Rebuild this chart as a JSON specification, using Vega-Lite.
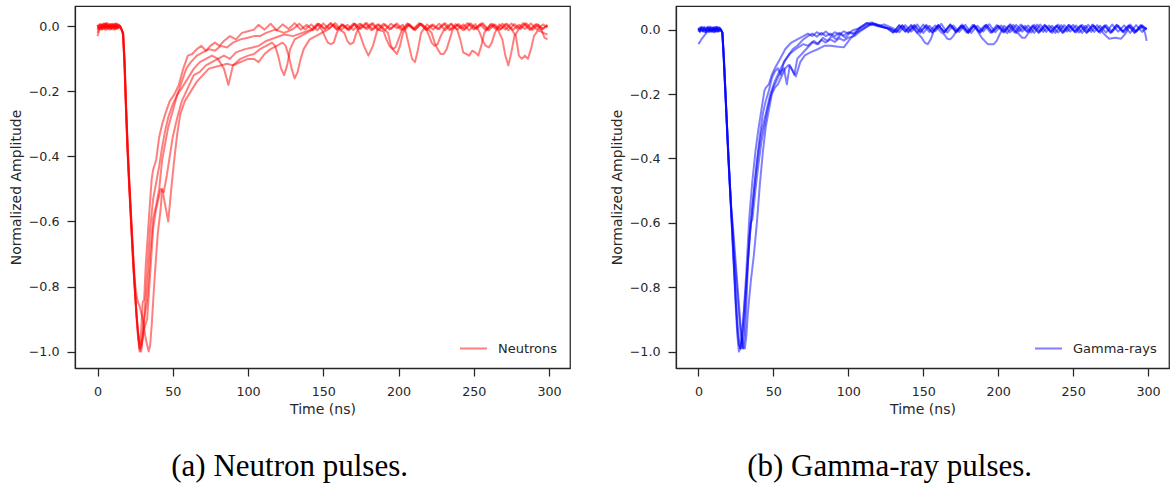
{
"$schema":"https://vega.github.io/schema/vega-lite/v6.json",
"background":"white",
"padding":{"left":8,"top":5,"right":0,"bottom":0},
"config":{
"view":{"stroke":"#262626","strokeWidth":1.25},
"font":"DejaVu Sans",
"axis":{"grid":false,"domainColor":"#262626","domainWidth":1.25,"tickColor":"#262626","tickWidth":1.25,"tickSize":8,"labelFont":"DejaVu Sans","labelFontSize":12.7,"labelColor":"#262626","titleFont":"DejaVu Sans","titleFontSize":14,"titleFontWeight":"normal","titleColor":"#262626"},
"legend":{"orient":"bottom-right","offset":12,"padding":0,"labelFont":"DejaVu Sans","labelFontSize":13,"labelColor":"#262626","symbolType":"stroke","symbolSize":729,"symbolStrokeWidth":2,"symbolOpacity":0.5,"labelOffset":10},
"concat":{"spacing":38}
},
"datasets":{
"neutrons":[
{"p":1,"t":0,"v":0.005},{"p":1,"t":1,"v":-0.008},{"p":1,"t":2,"v":0.004},{"p":1,"t":3,"v":-0.01},{"p":1,"t":4,"v":0.007},{"p":1,"t":5,"v":-0.004},{"p":1,"t":6,"v":0.009},{"p":1,"t":7,"v":-0.007},{"p":1,"t":8,"v":0.003},{"p":1,"t":9,"v":-0.009},{"p":1,"t":10,"v":0.006},{"p":1,"t":11,"v":-0.005},{"p":1,"t":12,"v":0.008},{"p":1,"t":13,"v":-0.006},{"p":1,"t":14,"v":0.004},{"p":1,"t":15,"v":0.0},
{"p":1,"t":16,"v":-0.01},{"p":1,"t":17,"v":-0.03},{"p":1,"t":18,"v":-0.13},{"p":1,"t":19,"v":-0.27},{"p":1,"t":20,"v":-0.39},{"p":1,"t":21,"v":-0.49},{"p":1,"t":22,"v":-0.58},{"p":1,"t":23,"v":-0.67},{"p":1,"t":24,"v":-0.75},{"p":1,"t":25,"v":-0.83},{"p":1,"t":26,"v":-0.9},{"p":1,"t":27,"v":-0.96},{"p":1,"t":28,"v":-1.0},{"p":1,"t":29,"v":-0.94},{"p":1,"t":30,"v":-0.85},{"p":1,"t":31,"v":-0.84},{"p":1,"t":32,"v":-0.74},{"p":1,"t":34,"v":-0.6},{"p":1,"t":36,"v":-0.47},{"p":1,"t":37,"v":-0.44},{"p":1,"t":39,"v":-0.41},{"p":1,"t":41,"v":-0.34},{"p":1,"t":43,"v":-0.3},{"p":1,"t":45,"v":-0.27},{"p":1,"t":48,"v":-0.23},{"p":1,"t":51,"v":-0.21},{"p":1,"t":54,"v":-0.18},{"p":1,"t":57,"v":-0.13},{"p":1,"t":60,"v":-0.09},{"p":1,"t":63,"v":-0.085},{"p":1,"t":66,"v":-0.07},{"p":1,"t":69,"v":-0.06},{"p":1,"t":72,"v":-0.075},{"p":1,"t":75,"v":-0.06},{"p":1,"t":78,"v":-0.05},{"p":1,"t":81,"v":-0.06},{"p":1,"t":84,"v":-0.045},{"p":1,"t":88,"v":-0.03},{"p":1,"t":92,"v":-0.04},{"p":1,"t":96,"v":-0.02},{"p":1,"t":100,"v":-0.015},{"p":1,"t":104,"v":-0.01},{"p":1,"t":107,"v":0.005},
{"p":1,"t":111,"v":-0.01},{"p":1,"t":115,"v":0.008},{"p":1,"t":119,"v":-0.012},{"p":1,"t":123,"v":0.006},{"p":1,"t":127,"v":-0.008},{"p":1,"t":131,"v":0.01},{"p":1,"t":135,"v":-0.01},{"p":1,"t":139,"v":0.005},{"p":1,"t":143,"v":-0.012},{"p":1,"t":147,"v":0.008},{"p":1,"t":151,"v":-0.006},{"p":1,"t":155,"v":0.01},{"p":1,"t":159,"v":-0.011},{"p":1,"t":163,"v":0.006},{"p":1,"t":167,"v":-0.009},{"p":1,"t":171,"v":0.008},{"p":1,"t":174,"v":-0.02},{"p":1,"t":177,"v":-0.06},{"p":1,"t":180,"v":-0.09},{"p":1,"t":183,"v":-0.06},{"p":1,"t":186,"v":-0.01},{"p":1,"t":190,"v":0.008},{"p":1,"t":194,"v":-0.01},{"p":1,"t":198,"v":0.006},{"p":1,"t":202,"v":-0.012},{"p":1,"t":206,"v":0.009},{"p":1,"t":210,"v":-0.007},{"p":1,"t":214,"v":0.01},{"p":1,"t":218,"v":-0.011},{"p":1,"t":222,"v":0.005},{"p":1,"t":226,"v":-0.009},{"p":1,"t":230,"v":0.008},{"p":1,"t":234,"v":-0.012},{"p":1,"t":238,"v":0.007},{"p":1,"t":242,"v":-0.006},{"p":1,"t":246,"v":0.01},{"p":1,"t":250,"v":-0.01},{"p":1,"t":254,"v":0.006},{"p":1,"t":258,"v":-0.012},{"p":1,"t":262,"v":0.008},{"p":1,"t":266,"v":-0.01},{"p":1,"t":269,"v":-0.04},{"p":1,"t":271,"v":-0.09},{"p":1,"t":273,"v":-0.12},{"p":1,"t":275,"v":-0.08},{"p":1,"t":277,"v":-0.03},{"p":1,"t":280,"v":-0.008},{"p":1,"t":284,"v":0.009},{"p":1,"t":288,"v":-0.01},{"p":1,"t":292,"v":0.007},{"p":1,"t":296,"v":-0.008},{"p":1,"t":299,"v":0.005},
{"p":2,"t":0,"v":-0.03},{"p":2,"t":1,"v":-0.015},{"p":2,"t":2,"v":-0.005},{"p":2,"t":3,"v":0.006},{"p":2,"t":4,"v":-0.008},{"p":2,"t":5,"v":0.009},{"p":2,"t":6,"v":-0.006},{"p":2,"t":7,"v":0.004},{"p":2,"t":8,"v":-0.01},{"p":2,"t":9,"v":0.007},{"p":2,"t":10,"v":-0.004},{"p":2,"t":11,"v":0.008},{"p":2,"t":12,"v":-0.009},{"p":2,"t":13,"v":0.005},{"p":2,"t":14,"v":-0.006},{"p":2,"t":15,"v":0.0},
{"p":2,"t":16,"v":-0.01},{"p":2,"t":17,"v":-0.02},{"p":2,"t":18,"v":-0.11},{"p":2,"t":19,"v":-0.25},{"p":2,"t":20,"v":-0.37},{"p":2,"t":21,"v":-0.47},{"p":2,"t":22,"v":-0.56},{"p":2,"t":23,"v":-0.65},{"p":2,"t":24,"v":-0.74},{"p":2,"t":25,"v":-0.82},{"p":2,"t":26,"v":-0.89},{"p":2,"t":27,"v":-0.95},{"p":2,"t":28,"v":-0.99},{"p":2,"t":29,"v":-1.0},{"p":2,"t":30,"v":-0.96},{"p":2,"t":31,"v":-0.9},{"p":2,"t":33,"v":-0.76},{"p":2,"t":35,"v":-0.62},{"p":2,"t":37,"v":-0.53},{"p":2,"t":39,"v":-0.48},{"p":2,"t":41,"v":-0.43},{"p":2,"t":43,"v":-0.37},{"p":2,"t":45,"v":-0.32},{"p":2,"t":47,"v":-0.28},{"p":2,"t":50,"v":-0.24},{"p":2,"t":53,"v":-0.21},{"p":2,"t":56,"v":-0.19},{"p":2,"t":60,"v":-0.16},{"p":2,"t":64,"v":-0.13},{"p":2,"t":68,"v":-0.11},{"p":2,"t":72,"v":-0.1},{"p":2,"t":76,"v":-0.09},{"p":2,"t":80,"v":-0.1},{"p":2,"t":84,"v":-0.13},{"p":2,"t":87,"v":-0.18},{"p":2,"t":90,"v":-0.12},{"p":2,"t":95,"v":-0.1},{"p":2,"t":100,"v":-0.09},{"p":2,"t":104,"v":-0.085},{"p":2,"t":108,"v":-0.07},{"p":2,"t":112,"v":-0.06},{"p":2,"t":116,"v":-0.05},{"p":2,"t":118,"v":-0.06},{"p":2,"t":120,"v":-0.09},{"p":2,"t":122,"v":-0.13},{"p":2,"t":124,"v":-0.15},{"p":2,"t":126,"v":-0.12},{"p":2,"t":128,"v":-0.07},{"p":2,"t":131,"v":-0.04},{"p":2,"t":135,"v":-0.03},{"p":2,"t":139,"v":-0.02},{"p":2,"t":143,"v":-0.01},
{"p":2,"t":147,"v":0.007},{"p":2,"t":151,"v":-0.01},{"p":2,"t":155,"v":0.009},{"p":2,"t":159,"v":-0.008},{"p":2,"t":163,"v":0.005},{"p":2,"t":167,"v":-0.012},{"p":2,"t":171,"v":0.008},{"p":2,"t":175,"v":-0.007},{"p":2,"t":179,"v":0.01},{"p":2,"t":183,"v":-0.01},{"p":2,"t":187,"v":0.006},{"p":2,"t":191,"v":-0.011},{"p":2,"t":195,"v":0.008},{"p":2,"t":199,"v":-0.006},{"p":2,"t":203,"v":0.005},{"p":2,"t":205,"v":-0.02},{"p":2,"t":207,"v":-0.06},{"p":2,"t":209,"v":-0.1},{"p":2,"t":211,"v":-0.11},{"p":2,"t":213,"v":-0.07},{"p":2,"t":215,"v":-0.02},{"p":2,"t":219,"v":0.006},{"p":2,"t":223,"v":-0.01},{"p":2,"t":227,"v":0.008},{"p":2,"t":231,"v":-0.012},{"p":2,"t":235,"v":0.006},{"p":2,"t":239,"v":-0.01},{"p":2,"t":241,"v":-0.04},{"p":2,"t":243,"v":-0.08},{"p":2,"t":245,"v":-0.085},{"p":2,"t":247,"v":-0.09},{"p":2,"t":249,"v":-0.075},{"p":2,"t":251,"v":-0.08},{"p":2,"t":253,"v":-0.09},{"p":2,"t":255,"v":-0.06},{"p":2,"t":257,"v":-0.02},{"p":2,"t":261,"v":0.006},{"p":2,"t":265,"v":-0.01},{"p":2,"t":269,"v":0.008},{"p":2,"t":273,"v":-0.012},{"p":2,"t":277,"v":0.007},{"p":2,"t":281,"v":-0.008},{"p":2,"t":285,"v":0.009},{"p":2,"t":289,"v":-0.011},{"p":2,"t":293,"v":0.005},{"p":2,"t":295,"v":-0.01},{"p":2,"t":297,"v":-0.035},{"p":2,"t":299,"v":-0.04},
{"p":3,"t":0,"v":-0.02},{"p":3,"t":1,"v":-0.005},{"p":3,"t":2,"v":0.007},{"p":3,"t":3,"v":-0.009},{"p":3,"t":4,"v":0.004},{"p":3,"t":5,"v":-0.006},{"p":3,"t":6,"v":0.01},{"p":3,"t":7,"v":-0.008},{"p":3,"t":8,"v":0.005},{"p":3,"t":9,"v":-0.004},{"p":3,"t":10,"v":0.008},{"p":3,"t":11,"v":-0.01},{"p":3,"t":12,"v":0.006},{"p":3,"t":13,"v":-0.007},{"p":3,"t":14,"v":0.003},{"p":3,"t":15,"v":0.0},
{"p":3,"t":16,"v":-0.008},{"p":3,"t":17,"v":-0.025},{"p":3,"t":18,"v":-0.12},{"p":3,"t":19,"v":-0.26},{"p":3,"t":20,"v":-0.38},{"p":3,"t":21,"v":-0.48},{"p":3,"t":22,"v":-0.57},{"p":3,"t":23,"v":-0.66},{"p":3,"t":24,"v":-0.75},{"p":3,"t":25,"v":-0.82},{"p":3,"t":26,"v":-0.89},{"p":3,"t":27,"v":-0.94},{"p":3,"t":28,"v":-0.97},{"p":3,"t":29,"v":-0.98},{"p":3,"t":30,"v":-0.96},{"p":3,"t":31,"v":-0.93},{"p":3,"t":33,"v":-0.9},{"p":3,"t":35,"v":-0.76},{"p":3,"t":37,"v":-0.62},{"p":3,"t":39,"v":-0.56},{"p":3,"t":41,"v":-0.52},{"p":3,"t":42,"v":-0.5},{"p":3,"t":44,"v":-0.51},{"p":3,"t":46,"v":-0.46},{"p":3,"t":48,"v":-0.4},{"p":3,"t":50,"v":-0.34},{"p":3,"t":53,"v":-0.28},{"p":3,"t":56,"v":-0.23},{"p":3,"t":60,"v":-0.19},{"p":3,"t":64,"v":-0.15},{"p":3,"t":68,"v":-0.14},{"p":3,"t":72,"v":-0.12},{"p":3,"t":76,"v":-0.11},{"p":3,"t":80,"v":-0.1},{"p":3,"t":84,"v":-0.09},{"p":3,"t":88,"v":-0.1},{"p":3,"t":92,"v":-0.08},{"p":3,"t":98,"v":-0.07},{"p":3,"t":103,"v":-0.065},{"p":3,"t":107,"v":-0.06},{"p":3,"t":112,"v":-0.045},{"p":3,"t":118,"v":-0.035},{"p":3,"t":124,"v":-0.025},{"p":3,"t":130,"v":-0.03},{"p":3,"t":136,"v":-0.02},{"p":3,"t":142,"v":-0.01},
{"p":3,"t":146,"v":0.008},{"p":3,"t":149,"v":-0.01},{"p":3,"t":151,"v":-0.03},{"p":3,"t":153,"v":-0.05},{"p":3,"t":155,"v":-0.055},{"p":3,"t":157,"v":-0.05},{"p":3,"t":159,"v":-0.02},{"p":3,"t":162,"v":0.006},{"p":3,"t":166,"v":-0.01},{"p":3,"t":170,"v":0.009},{"p":3,"t":174,"v":-0.008},{"p":3,"t":178,"v":0.01},{"p":3,"t":182,"v":-0.012},{"p":3,"t":186,"v":0.006},{"p":3,"t":190,"v":-0.008},{"p":3,"t":193,"v":-0.02},{"p":3,"t":195,"v":-0.06},{"p":3,"t":197,"v":-0.075},{"p":3,"t":199,"v":-0.085},{"p":3,"t":201,"v":-0.06},{"p":3,"t":203,"v":-0.02},{"p":3,"t":207,"v":0.007},{"p":3,"t":211,"v":-0.01},{"p":3,"t":215,"v":0.008},{"p":3,"t":219,"v":-0.011},{"p":3,"t":223,"v":0.006},{"p":3,"t":227,"v":-0.009},{"p":3,"t":231,"v":0.01},{"p":3,"t":235,"v":-0.01},{"p":3,"t":239,"v":0.005},{"p":3,"t":243,"v":-0.012},{"p":3,"t":247,"v":0.008},{"p":3,"t":251,"v":-0.007},{"p":3,"t":255,"v":0.009},{"p":3,"t":259,"v":-0.01},{"p":3,"t":263,"v":0.006},{"p":3,"t":267,"v":-0.011},{"p":3,"t":271,"v":0.007},{"p":3,"t":275,"v":-0.008},{"p":3,"t":278,"v":-0.03},{"p":3,"t":280,"v":-0.09},{"p":3,"t":282,"v":-0.1},{"p":3,"t":284,"v":-0.09},{"p":3,"t":286,"v":-0.1},{"p":3,"t":288,"v":-0.07},{"p":3,"t":290,"v":-0.03},{"p":3,"t":293,"v":-0.01},{"p":3,"t":296,"v":-0.02},{"p":3,"t":299,"v":-0.025},
{"p":4,"t":0,"v":0.004},{"p":4,"t":1,"v":-0.009},{"p":4,"t":2,"v":0.006},{"p":4,"t":3,"v":-0.005},{"p":4,"t":4,"v":0.009},{"p":4,"t":5,"v":-0.01},{"p":4,"t":6,"v":0.005},{"p":4,"t":7,"v":-0.003},{"p":4,"t":8,"v":0.007},{"p":4,"t":9,"v":-0.008},{"p":4,"t":10,"v":0.004},{"p":4,"t":11,"v":-0.006},{"p":4,"t":12,"v":0.009},{"p":4,"t":13,"v":-0.005},{"p":4,"t":14,"v":0.006},{"p":4,"t":15,"v":0.0},
{"p":4,"t":16,"v":-0.01},{"p":4,"t":17,"v":-0.02},{"p":4,"t":18,"v":-0.1},{"p":4,"t":19,"v":-0.24},{"p":4,"t":20,"v":-0.36},{"p":4,"t":21,"v":-0.46},{"p":4,"t":22,"v":-0.55},{"p":4,"t":23,"v":-0.64},{"p":4,"t":24,"v":-0.72},{"p":4,"t":25,"v":-0.79},{"p":4,"t":26,"v":-0.83},{"p":4,"t":27,"v":-0.85},{"p":4,"t":28,"v":-0.86},{"p":4,"t":30,"v":-0.9},{"p":4,"t":32,"v":-0.96},{"p":4,"t":34,"v":-1.0},{"p":4,"t":35,"v":-0.98},{"p":4,"t":36,"v":-0.92},{"p":4,"t":38,"v":-0.77},{"p":4,"t":40,"v":-0.64},{"p":4,"t":42,"v":-0.56},{"p":4,"t":43,"v":-0.5},{"p":4,"t":45,"v":-0.55},{"p":4,"t":47,"v":-0.6},{"p":4,"t":49,"v":-0.5},{"p":4,"t":51,"v":-0.41},{"p":4,"t":53,"v":-0.33},{"p":4,"t":55,"v":-0.27},{"p":4,"t":58,"v":-0.23},{"p":4,"t":62,"v":-0.2},{"p":4,"t":66,"v":-0.17},{"p":4,"t":70,"v":-0.15},{"p":4,"t":74,"v":-0.13},{"p":4,"t":78,"v":-0.125},{"p":4,"t":82,"v":-0.12},{"p":4,"t":86,"v":-0.115},{"p":4,"t":90,"v":-0.12},{"p":4,"t":95,"v":-0.11},{"p":4,"t":100,"v":-0.1},{"p":4,"t":104,"v":-0.1},{"p":4,"t":107,"v":-0.11},{"p":4,"t":111,"v":-0.085},{"p":4,"t":115,"v":-0.07},{"p":4,"t":119,"v":-0.06},{"p":4,"t":123,"v":-0.05},{"p":4,"t":125,"v":-0.06},{"p":4,"t":127,"v":-0.09},{"p":4,"t":129,"v":-0.13},{"p":4,"t":131,"v":-0.16},{"p":4,"t":133,"v":-0.14},{"p":4,"t":135,"v":-0.1},{"p":4,"t":137,"v":-0.07},{"p":4,"t":141,"v":-0.04},{"p":4,"t":145,"v":-0.03},{"p":4,"t":149,"v":-0.02},{"p":4,"t":153,"v":-0.01},
{"p":4,"t":157,"v":0.006},{"p":4,"t":161,"v":-0.01},{"p":4,"t":164,"v":-0.02},{"p":4,"t":166,"v":-0.045},{"p":4,"t":168,"v":-0.055},{"p":4,"t":170,"v":-0.05},{"p":4,"t":172,"v":-0.02},{"p":4,"t":175,"v":0.007},{"p":4,"t":179,"v":-0.009},{"p":4,"t":183,"v":0.01},{"p":4,"t":187,"v":-0.011},{"p":4,"t":191,"v":0.006},{"p":4,"t":195,"v":-0.008},{"p":4,"t":199,"v":0.009},{"p":4,"t":203,"v":-0.01},{"p":4,"t":207,"v":0.005},{"p":4,"t":211,"v":-0.012},{"p":4,"t":215,"v":0.008},{"p":4,"t":219,"v":-0.006},{"p":4,"t":222,"v":-0.02},{"p":4,"t":224,"v":-0.05},{"p":4,"t":226,"v":-0.07},{"p":4,"t":228,"v":-0.085},{"p":4,"t":230,"v":-0.085},{"p":4,"t":232,"v":-0.07},{"p":4,"t":234,"v":-0.04},{"p":4,"t":236,"v":-0.01},{"p":4,"t":240,"v":0.007},{"p":4,"t":244,"v":-0.01},{"p":4,"t":248,"v":0.009},{"p":4,"t":252,"v":-0.008},{"p":4,"t":256,"v":0.01},{"p":4,"t":260,"v":-0.012},{"p":4,"t":264,"v":0.006},{"p":4,"t":268,"v":-0.009},{"p":4,"t":272,"v":0.008},{"p":4,"t":276,"v":-0.011},{"p":4,"t":280,"v":0.005},{"p":4,"t":284,"v":-0.008},{"p":4,"t":288,"v":0.009},{"p":4,"t":292,"v":-0.01},{"p":4,"t":296,"v":0.006},{"p":4,"t":299,"v":-0.004},
{"p":5,"t":0,"v":-0.01},{"p":5,"t":1,"v":0.006},{"p":5,"t":2,"v":-0.008},{"p":5,"t":3,"v":0.004},{"p":5,"t":4,"v":-0.006},{"p":5,"t":5,"v":0.008},{"p":5,"t":6,"v":-0.01},{"p":5,"t":7,"v":0.009},{"p":5,"t":8,"v":-0.005},{"p":5,"t":9,"v":0.006},{"p":5,"t":10,"v":-0.009},{"p":5,"t":11,"v":0.004},{"p":5,"t":12,"v":-0.007},{"p":5,"t":13,"v":0.008},{"p":5,"t":14,"v":-0.004},{"p":5,"t":15,"v":0.0},
{"p":5,"t":16,"v":-0.01},{"p":5,"t":17,"v":-0.02},{"p":5,"t":18,"v":-0.12},{"p":5,"t":19,"v":-0.26},{"p":5,"t":20,"v":-0.38},{"p":5,"t":21,"v":-0.48},{"p":5,"t":22,"v":-0.57},{"p":5,"t":23,"v":-0.66},{"p":5,"t":24,"v":-0.75},{"p":5,"t":25,"v":-0.82},{"p":5,"t":26,"v":-0.89},{"p":5,"t":27,"v":-0.95},{"p":5,"t":28,"v":-0.99},{"p":5,"t":29,"v":-0.99},{"p":5,"t":30,"v":-0.95},{"p":5,"t":31,"v":-0.9},{"p":5,"t":33,"v":-0.84},{"p":5,"t":35,"v":-0.7},{"p":5,"t":37,"v":-0.59},{"p":5,"t":39,"v":-0.55},{"p":5,"t":41,"v":-0.5},{"p":5,"t":43,"v":-0.41},{"p":5,"t":45,"v":-0.36},{"p":5,"t":47,"v":-0.31},{"p":5,"t":50,"v":-0.26},{"p":5,"t":53,"v":-0.21},{"p":5,"t":56,"v":-0.17},{"p":5,"t":59,"v":-0.13},{"p":5,"t":62,"v":-0.11},{"p":5,"t":66,"v":-0.09},{"p":5,"t":70,"v":-0.08},{"p":5,"t":74,"v":-0.07},{"p":5,"t":78,"v":-0.075},{"p":5,"t":82,"v":-0.06},{"p":5,"t":86,"v":-0.065},{"p":5,"t":90,"v":-0.05},{"p":5,"t":95,"v":-0.04},{"p":5,"t":100,"v":-0.035},{"p":5,"t":104,"v":-0.03},{"p":5,"t":108,"v":-0.03},{"p":5,"t":112,"v":-0.02},{"p":5,"t":118,"v":-0.01},{"p":5,"t":124,"v":-0.02},{"p":5,"t":130,"v":-0.008},
{"p":5,"t":134,"v":0.008},{"p":5,"t":138,"v":-0.01},{"p":5,"t":142,"v":0.006},{"p":5,"t":146,"v":-0.012},{"p":5,"t":150,"v":0.009},{"p":5,"t":154,"v":-0.007},{"p":5,"t":158,"v":0.01},{"p":5,"t":162,"v":-0.01},{"p":5,"t":166,"v":0.005},{"p":5,"t":170,"v":-0.011},{"p":5,"t":174,"v":0.008},{"p":5,"t":178,"v":-0.006},{"p":5,"t":182,"v":0.009},{"p":5,"t":186,"v":-0.01},{"p":5,"t":190,"v":-0.015},{"p":5,"t":192,"v":-0.04},{"p":5,"t":194,"v":-0.06},{"p":5,"t":196,"v":-0.07},{"p":5,"t":198,"v":-0.065},{"p":5,"t":200,"v":-0.04},{"p":5,"t":202,"v":-0.015},{"p":5,"t":206,"v":0.007},{"p":5,"t":210,"v":-0.01},{"p":5,"t":214,"v":0.008},{"p":5,"t":218,"v":-0.005},{"p":5,"t":220,"v":-0.025},{"p":5,"t":222,"v":-0.05},{"p":5,"t":224,"v":-0.06},{"p":5,"t":226,"v":-0.055},{"p":5,"t":228,"v":-0.03},{"p":5,"t":231,"v":-0.005},{"p":5,"t":235,"v":0.009},{"p":5,"t":239,"v":-0.01},{"p":5,"t":243,"v":0.006},{"p":5,"t":247,"v":-0.012},{"p":5,"t":251,"v":0.007},{"p":5,"t":254,"v":-0.02},{"p":5,"t":256,"v":-0.045},{"p":5,"t":258,"v":-0.06},{"p":5,"t":260,"v":-0.065},{"p":5,"t":262,"v":-0.05},{"p":5,"t":264,"v":-0.02},{"p":5,"t":267,"v":0.006},{"p":5,"t":271,"v":-0.01},{"p":5,"t":275,"v":0.009},{"p":5,"t":279,"v":-0.007},{"p":5,"t":283,"v":0.01},{"p":5,"t":287,"v":-0.011},{"p":5,"t":291,"v":0.006},{"p":5,"t":295,"v":-0.009},{"p":5,"t":299,"v":0.003}
],
"gammas":[
{"p":1,"t":0,"v":0.004},{"p":1,"t":1,"v":-0.006},{"p":1,"t":2,"v":0.008},{"p":1,"t":3,"v":-0.003},{"p":1,"t":4,"v":0.006},{"p":1,"t":5,"v":-0.007},{"p":1,"t":6,"v":0.005},{"p":1,"t":7,"v":-0.004},{"p":1,"t":8,"v":0.009},{"p":1,"t":9,"v":-0.005},{"p":1,"t":10,"v":0.006},{"p":1,"t":11,"v":-0.008},{"p":1,"t":12,"v":0.005},{"p":1,"t":13,"v":-0.003},{"p":1,"t":14,"v":0.007},{"p":1,"t":15,"v":0.0},
{"p":1,"t":16,"v":-0.01},{"p":1,"t":17,"v":-0.1},{"p":1,"t":18,"v":-0.2},{"p":1,"t":19,"v":-0.3},{"p":1,"t":20,"v":-0.4},{"p":1,"t":21,"v":-0.49},{"p":1,"t":22,"v":-0.58},{"p":1,"t":23,"v":-0.68},{"p":1,"t":24,"v":-0.77},{"p":1,"t":25,"v":-0.87},{"p":1,"t":26,"v":-0.95},{"p":1,"t":27,"v":-1.0},{"p":1,"t":28,"v":-0.99},{"p":1,"t":29,"v":-0.95},{"p":1,"t":31,"v":-0.84},{"p":1,"t":33,"v":-0.72},{"p":1,"t":35,"v":-0.6},{"p":1,"t":36,"v":-0.55},{"p":1,"t":38,"v":-0.46},{"p":1,"t":40,"v":-0.38},{"p":1,"t":42,"v":-0.32},{"p":1,"t":44,"v":-0.28},{"p":1,"t":46,"v":-0.24},{"p":1,"t":48,"v":-0.2},{"p":1,"t":51,"v":-0.16},{"p":1,"t":55,"v":-0.12},{"p":1,"t":58,"v":-0.095},{"p":1,"t":61,"v":-0.075},{"p":1,"t":65,"v":-0.06},{"p":1,"t":70,"v":-0.045},{"p":1,"t":73,"v":-0.05},{"p":1,"t":76,"v":-0.038},{"p":1,"t":79,"v":-0.045},{"p":1,"t":82,"v":-0.032},{"p":1,"t":85,"v":-0.04},{"p":1,"t":88,"v":-0.03},{"p":1,"t":91,"v":-0.038},{"p":1,"t":94,"v":-0.026},{"p":1,"t":97,"v":-0.034},{"p":1,"t":100,"v":-0.025},{"p":1,"t":104,"v":-0.02},{"p":1,"t":108,"v":-0.005},{"p":1,"t":112,"v":0.008},{"p":1,"t":116,"v":0.018},{"p":1,"t":120,"v":0.012},{"p":1,"t":124,"v":0.016},{"p":1,"t":130,"v":0.004},
{"p":1,"t":134,"v":-0.008},{"p":1,"t":138,"v":0.014},{"p":1,"t":142,"v":-0.006},{"p":1,"t":146,"v":0.016},{"p":1,"t":150,"v":-0.01},{"p":1,"t":154,"v":0.012},{"p":1,"t":158,"v":-0.005},{"p":1,"t":162,"v":0.018},{"p":1,"t":166,"v":-0.009},{"p":1,"t":170,"v":0.013},{"p":1,"t":174,"v":-0.007},{"p":1,"t":178,"v":0.015},{"p":1,"t":182,"v":-0.01},{"p":1,"t":186,"v":0.012},{"p":1,"t":190,"v":-0.006},{"p":1,"t":194,"v":0.017},{"p":1,"t":198,"v":-0.008},{"p":1,"t":202,"v":0.013},{"p":1,"t":206,"v":-0.011},{"p":1,"t":210,"v":0.015},{"p":1,"t":214,"v":-0.006},{"p":1,"t":218,"v":0.012},{"p":1,"t":222,"v":-0.009},{"p":1,"t":226,"v":0.016},{"p":1,"t":230,"v":-0.007},{"p":1,"t":234,"v":0.013},{"p":1,"t":238,"v":-0.01},{"p":1,"t":242,"v":0.014},{"p":1,"t":246,"v":-0.006},{"p":1,"t":250,"v":0.015},{"p":1,"t":254,"v":-0.009},{"p":1,"t":258,"v":0.012},{"p":1,"t":262,"v":-0.007},{"p":1,"t":266,"v":0.014},{"p":1,"t":270,"v":-0.01},{"p":1,"t":272,"v":-0.02},{"p":1,"t":274,"v":-0.028},{"p":1,"t":278,"v":-0.025},{"p":1,"t":282,"v":-0.028},{"p":1,"t":285,"v":-0.012},{"p":1,"t":288,"v":0.012},{"p":1,"t":292,"v":-0.006},{"p":1,"t":296,"v":0.014},{"p":1,"t":299,"v":0.002},
{"p":2,"t":0,"v":-0.006},{"p":2,"t":1,"v":0.007},{"p":2,"t":2,"v":-0.004},{"p":2,"t":3,"v":0.008},{"p":2,"t":4,"v":-0.007},{"p":2,"t":5,"v":0.005},{"p":2,"t":6,"v":-0.003},{"p":2,"t":7,"v":0.009},{"p":2,"t":8,"v":-0.006},{"p":2,"t":9,"v":0.004},{"p":2,"t":10,"v":-0.008},{"p":2,"t":11,"v":0.006},{"p":2,"t":12,"v":-0.004},{"p":2,"t":13,"v":0.008},{"p":2,"t":14,"v":-0.005},{"p":2,"t":15,"v":0.0},
{"p":2,"t":16,"v":-0.01},{"p":2,"t":17,"v":-0.09},{"p":2,"t":18,"v":-0.19},{"p":2,"t":19,"v":-0.29},{"p":2,"t":20,"v":-0.39},{"p":2,"t":21,"v":-0.48},{"p":2,"t":22,"v":-0.57},{"p":2,"t":23,"v":-0.63},{"p":2,"t":24,"v":-0.7},{"p":2,"t":25,"v":-0.76},{"p":2,"t":26,"v":-0.82},{"p":2,"t":27,"v":-0.88},{"p":2,"t":28,"v":-0.93},{"p":2,"t":29,"v":-0.97},{"p":2,"t":30,"v":-0.99},{"p":2,"t":31,"v":-0.95},{"p":2,"t":32,"v":-0.85},{"p":2,"t":33,"v":-0.73},{"p":2,"t":34,"v":-0.64},{"p":2,"t":35,"v":-0.6},{"p":2,"t":36,"v":-0.59},{"p":2,"t":38,"v":-0.5},{"p":2,"t":40,"v":-0.42},{"p":2,"t":42,"v":-0.35},{"p":2,"t":44,"v":-0.3},{"p":2,"t":46,"v":-0.25},{"p":2,"t":48,"v":-0.21},{"p":2,"t":50,"v":-0.18},{"p":2,"t":52,"v":-0.16},{"p":2,"t":55,"v":-0.13},{"p":2,"t":57,"v":-0.12},{"p":2,"t":59,"v":-0.17},{"p":2,"t":61,"v":-0.11},{"p":2,"t":64,"v":-0.14},{"p":2,"t":66,"v":-0.09},{"p":2,"t":70,"v":-0.07},{"p":2,"t":74,"v":-0.05},{"p":2,"t":77,"v":-0.035},{"p":2,"t":80,"v":-0.045},{"p":2,"t":83,"v":-0.025},{"p":2,"t":86,"v":-0.035},{"p":2,"t":89,"v":-0.02},{"p":2,"t":92,"v":-0.03},{"p":2,"t":95,"v":-0.015},{"p":2,"t":98,"v":-0.025},{"p":2,"t":101,"v":-0.01},{"p":2,"t":104,"v":-0.015},{"p":2,"t":108,"v":0.005},{"p":2,"t":112,"v":0.02},{"p":2,"t":116,"v":0.022},{"p":2,"t":120,"v":0.015},{"p":2,"t":126,"v":0.005},
{"p":2,"t":130,"v":-0.009},{"p":2,"t":134,"v":0.013},{"p":2,"t":138,"v":-0.006},{"p":2,"t":142,"v":0.015},{"p":2,"t":146,"v":-0.01},{"p":2,"t":149,"v":-0.025},{"p":2,"t":151,"v":-0.04},{"p":2,"t":153,"v":-0.045},{"p":2,"t":155,"v":-0.03},{"p":2,"t":157,"v":-0.005},{"p":2,"t":160,"v":0.014},{"p":2,"t":164,"v":-0.008},{"p":2,"t":168,"v":0.012},{"p":2,"t":172,"v":-0.006},{"p":2,"t":176,"v":0.016},{"p":2,"t":180,"v":-0.01},{"p":2,"t":184,"v":0.013},{"p":2,"t":188,"v":-0.007},{"p":2,"t":192,"v":0.015},{"p":2,"t":196,"v":-0.009},{"p":2,"t":200,"v":0.012},{"p":2,"t":204,"v":-0.006},{"p":2,"t":208,"v":0.017},{"p":2,"t":212,"v":-0.01},{"p":2,"t":216,"v":0.013},{"p":2,"t":220,"v":-0.008},{"p":2,"t":224,"v":0.015},{"p":2,"t":228,"v":-0.006},{"p":2,"t":232,"v":0.012},{"p":2,"t":236,"v":-0.01},{"p":2,"t":240,"v":0.016},{"p":2,"t":244,"v":-0.007},{"p":2,"t":248,"v":0.013},{"p":2,"t":252,"v":-0.009},{"p":2,"t":256,"v":0.015},{"p":2,"t":260,"v":-0.006},{"p":2,"t":264,"v":0.012},{"p":2,"t":268,"v":-0.01},{"p":2,"t":272,"v":0.014},{"p":2,"t":276,"v":-0.007},{"p":2,"t":280,"v":0.013},{"p":2,"t":284,"v":-0.009},{"p":2,"t":288,"v":0.016},{"p":2,"t":292,"v":-0.006},{"p":2,"t":296,"v":0.01},{"p":2,"t":298,"v":-0.01},{"p":2,"t":299,"v":-0.035},
{"p":3,"t":0,"v":-0.045},{"p":3,"t":1,"v":-0.038},{"p":3,"t":2,"v":-0.03},{"p":3,"t":3,"v":-0.024},{"p":3,"t":4,"v":-0.018},{"p":3,"t":5,"v":-0.012},{"p":3,"t":6,"v":-0.006},{"p":3,"t":7,"v":0.004},{"p":3,"t":8,"v":-0.005},{"p":3,"t":9,"v":0.007},{"p":3,"t":10,"v":-0.004},{"p":3,"t":11,"v":0.008},{"p":3,"t":12,"v":-0.006},{"p":3,"t":13,"v":0.005},{"p":3,"t":14,"v":-0.003},{"p":3,"t":15,"v":0.0},
{"p":3,"t":16,"v":-0.01},{"p":3,"t":17,"v":-0.09},{"p":3,"t":18,"v":-0.19},{"p":3,"t":19,"v":-0.29},{"p":3,"t":20,"v":-0.39},{"p":3,"t":21,"v":-0.48},{"p":3,"t":22,"v":-0.56},{"p":3,"t":23,"v":-0.61},{"p":3,"t":24,"v":-0.67},{"p":3,"t":25,"v":-0.73},{"p":3,"t":26,"v":-0.79},{"p":3,"t":27,"v":-0.85},{"p":3,"t":28,"v":-0.91},{"p":3,"t":29,"v":-0.96},{"p":3,"t":30,"v":-0.99},{"p":3,"t":31,"v":-0.99},{"p":3,"t":32,"v":-0.95},{"p":3,"t":33,"v":-0.88},{"p":3,"t":35,"v":-0.78},{"p":3,"t":37,"v":-0.7},{"p":3,"t":39,"v":-0.6},{"p":3,"t":41,"v":-0.48},{"p":3,"t":43,"v":-0.38},{"p":3,"t":45,"v":-0.3},{"p":3,"t":47,"v":-0.25},{"p":3,"t":49,"v":-0.2},{"p":3,"t":51,"v":-0.18},{"p":3,"t":53,"v":-0.17},{"p":3,"t":56,"v":-0.14},{"p":3,"t":58,"v":-0.12},{"p":3,"t":60,"v":-0.11},{"p":3,"t":62,"v":-0.12},{"p":3,"t":65,"v":-0.145},{"p":3,"t":68,"v":-0.1},{"p":3,"t":71,"v":-0.08},{"p":3,"t":75,"v":-0.07},{"p":3,"t":80,"v":-0.06},{"p":3,"t":84,"v":-0.05},{"p":3,"t":88,"v":-0.05},{"p":3,"t":92,"v":-0.052},{"p":3,"t":97,"v":-0.055},{"p":3,"t":101,"v":-0.03},{"p":3,"t":105,"v":-0.01},{"p":3,"t":110,"v":0.003},{"p":3,"t":114,"v":0.015},{"p":3,"t":118,"v":0.018},{"p":3,"t":122,"v":0.01},{"p":3,"t":128,"v":0.003},
{"p":3,"t":132,"v":-0.008},{"p":3,"t":136,"v":0.014},{"p":3,"t":140,"v":-0.006},{"p":3,"t":144,"v":0.012},{"p":3,"t":148,"v":-0.01},{"p":3,"t":152,"v":0.015},{"p":3,"t":156,"v":-0.007},{"p":3,"t":160,"v":0.013},{"p":3,"t":164,"v":-0.009},{"p":3,"t":168,"v":0.016},{"p":3,"t":172,"v":-0.006},{"p":3,"t":176,"v":0.012},{"p":3,"t":180,"v":-0.01},{"p":3,"t":184,"v":0.014},{"p":3,"t":187,"v":-0.01},{"p":3,"t":189,"v":-0.025},{"p":3,"t":191,"v":-0.035},{"p":3,"t":193,"v":-0.045},{"p":3,"t":195,"v":-0.045},{"p":3,"t":197,"v":-0.045},{"p":3,"t":199,"v":-0.035},{"p":3,"t":201,"v":-0.015},{"p":3,"t":204,"v":0.012},{"p":3,"t":208,"v":-0.008},{"p":3,"t":212,"v":0.015},{"p":3,"t":216,"v":-0.006},{"p":3,"t":220,"v":0.013},{"p":3,"t":224,"v":-0.01},{"p":3,"t":228,"v":0.016},{"p":3,"t":232,"v":-0.007},{"p":3,"t":236,"v":0.012},{"p":3,"t":240,"v":-0.009},{"p":3,"t":244,"v":0.014},{"p":3,"t":248,"v":-0.006},{"p":3,"t":252,"v":0.013},{"p":3,"t":256,"v":-0.01},{"p":3,"t":260,"v":0.015},{"p":3,"t":264,"v":-0.007},{"p":3,"t":268,"v":0.012},{"p":3,"t":272,"v":-0.009},{"p":3,"t":276,"v":0.016},{"p":3,"t":280,"v":-0.006},{"p":3,"t":284,"v":0.013},{"p":3,"t":288,"v":-0.01},{"p":3,"t":292,"v":0.014},{"p":3,"t":296,"v":-0.007},{"p":3,"t":299,"v":0.006},
{"p":4,"t":0,"v":0.003},{"p":4,"t":1,"v":-0.007},{"p":4,"t":2,"v":0.005},{"p":4,"t":3,"v":-0.004},{"p":4,"t":4,"v":0.008},{"p":4,"t":5,"v":-0.006},{"p":4,"t":6,"v":0.006},{"p":4,"t":7,"v":-0.008},{"p":4,"t":8,"v":0.004},{"p":4,"t":9,"v":-0.003},{"p":4,"t":10,"v":0.007},{"p":4,"t":11,"v":-0.005},{"p":4,"t":12,"v":0.009},{"p":4,"t":13,"v":-0.006},{"p":4,"t":14,"v":0.004},{"p":4,"t":15,"v":0.0},
{"p":4,"t":16,"v":-0.01},{"p":4,"t":17,"v":-0.1},{"p":4,"t":18,"v":-0.2},{"p":4,"t":19,"v":-0.3},{"p":4,"t":20,"v":-0.4},{"p":4,"t":21,"v":-0.49},{"p":4,"t":22,"v":-0.58},{"p":4,"t":23,"v":-0.67},{"p":4,"t":24,"v":-0.76},{"p":4,"t":25,"v":-0.85},{"p":4,"t":26,"v":-0.93},{"p":4,"t":27,"v":-0.98},{"p":4,"t":28,"v":-0.99},{"p":4,"t":29,"v":-0.96},{"p":4,"t":30,"v":-0.9},{"p":4,"t":32,"v":-0.75},{"p":4,"t":34,"v":-0.58},{"p":4,"t":36,"v":-0.47},{"p":4,"t":38,"v":-0.38},{"p":4,"t":40,"v":-0.31},{"p":4,"t":42,"v":-0.25},{"p":4,"t":44,"v":-0.19},{"p":4,"t":45,"v":-0.18},{"p":4,"t":47,"v":-0.17},{"p":4,"t":49,"v":-0.14},{"p":4,"t":51,"v":-0.12},{"p":4,"t":54,"v":-0.095},{"p":4,"t":58,"v":-0.06},{"p":4,"t":62,"v":-0.04},{"p":4,"t":66,"v":-0.03},{"p":4,"t":70,"v":-0.02},{"p":4,"t":73,"v":-0.012},{"p":4,"t":76,"v":-0.02},{"p":4,"t":79,"v":-0.008},{"p":4,"t":82,"v":-0.016},{"p":4,"t":85,"v":-0.006},{"p":4,"t":88,"v":-0.018},{"p":4,"t":91,"v":-0.008},{"p":4,"t":94,"v":-0.015},{"p":4,"t":97,"v":-0.005},{"p":4,"t":100,"v":-0.012},{"p":4,"t":103,"v":-0.002},{"p":4,"t":108,"v":0.005},{"p":4,"t":112,"v":0.015},{"p":4,"t":116,"v":0.02},{"p":4,"t":120,"v":0.012},{"p":4,"t":126,"v":0.004},
{"p":4,"t":130,"v":-0.009},{"p":4,"t":134,"v":0.014},{"p":4,"t":138,"v":-0.006},{"p":4,"t":142,"v":0.012},{"p":4,"t":146,"v":-0.01},{"p":4,"t":150,"v":0.016},{"p":4,"t":154,"v":-0.007},{"p":4,"t":158,"v":0.013},{"p":4,"t":162,"v":-0.008},{"p":4,"t":164,"v":-0.015},{"p":4,"t":166,"v":-0.028},{"p":4,"t":168,"v":-0.03},{"p":4,"t":170,"v":-0.02},{"p":4,"t":172,"v":-0.005},{"p":4,"t":175,"v":0.012},{"p":4,"t":179,"v":-0.009},{"p":4,"t":183,"v":0.015},{"p":4,"t":187,"v":-0.006},{"p":4,"t":191,"v":0.013},{"p":4,"t":195,"v":-0.01},{"p":4,"t":199,"v":0.014},{"p":4,"t":203,"v":-0.007},{"p":4,"t":207,"v":0.012},{"p":4,"t":211,"v":-0.009},{"p":4,"t":215,"v":0.016},{"p":4,"t":219,"v":-0.006},{"p":4,"t":223,"v":0.013},{"p":4,"t":227,"v":-0.01},{"p":4,"t":231,"v":0.015},{"p":4,"t":235,"v":-0.007},{"p":4,"t":239,"v":0.012},{"p":4,"t":243,"v":-0.009},{"p":4,"t":247,"v":0.014},{"p":4,"t":251,"v":-0.006},{"p":4,"t":255,"v":0.013},{"p":4,"t":259,"v":-0.01},{"p":4,"t":263,"v":0.016},{"p":4,"t":267,"v":-0.007},{"p":4,"t":271,"v":0.012},{"p":4,"t":275,"v":-0.009},{"p":4,"t":279,"v":0.014},{"p":4,"t":283,"v":-0.006},{"p":4,"t":287,"v":0.013},{"p":4,"t":291,"v":-0.01},{"p":4,"t":295,"v":0.012},{"p":4,"t":299,"v":0.0},
{"p":5,"t":0,"v":0.006},{"p":5,"t":1,"v":-0.004},{"p":5,"t":2,"v":0.007},{"p":5,"t":3,"v":-0.006},{"p":5,"t":4,"v":0.004},{"p":5,"t":5,"v":-0.008},{"p":5,"t":6,"v":0.009},{"p":5,"t":7,"v":-0.005},{"p":5,"t":8,"v":0.006},{"p":5,"t":9,"v":-0.007},{"p":5,"t":10,"v":0.005},{"p":5,"t":11,"v":-0.004},{"p":5,"t":12,"v":0.008},{"p":5,"t":13,"v":-0.006},{"p":5,"t":14,"v":0.005},{"p":5,"t":15,"v":0.0},
{"p":5,"t":16,"v":-0.01},{"p":5,"t":17,"v":-0.09},{"p":5,"t":18,"v":-0.19},{"p":5,"t":19,"v":-0.29},{"p":5,"t":20,"v":-0.39},{"p":5,"t":21,"v":-0.48},{"p":5,"t":22,"v":-0.57},{"p":5,"t":23,"v":-0.66},{"p":5,"t":24,"v":-0.75},{"p":5,"t":25,"v":-0.84},{"p":5,"t":26,"v":-0.91},{"p":5,"t":27,"v":-0.96},{"p":5,"t":28,"v":-0.99},{"p":5,"t":29,"v":-0.99},{"p":5,"t":30,"v":-0.95},{"p":5,"t":31,"v":-0.88},{"p":5,"t":33,"v":-0.72},{"p":5,"t":35,"v":-0.6},{"p":5,"t":37,"v":-0.5},{"p":5,"t":39,"v":-0.41},{"p":5,"t":41,"v":-0.33},{"p":5,"t":43,"v":-0.26},{"p":5,"t":45,"v":-0.22},{"p":5,"t":47,"v":-0.19},{"p":5,"t":49,"v":-0.15},{"p":5,"t":51,"v":-0.13},{"p":5,"t":53,"v":-0.12},{"p":5,"t":55,"v":-0.14},{"p":5,"t":57,"v":-0.1},{"p":5,"t":60,"v":-0.08},{"p":5,"t":63,"v":-0.06},{"p":5,"t":66,"v":-0.05},{"p":5,"t":70,"v":-0.03},{"p":5,"t":73,"v":-0.02},{"p":5,"t":76,"v":-0.012},{"p":5,"t":79,"v":-0.022},{"p":5,"t":82,"v":-0.01},{"p":5,"t":85,"v":-0.02},{"p":5,"t":88,"v":-0.012},{"p":5,"t":91,"v":-0.02},{"p":5,"t":94,"v":-0.01},{"p":5,"t":97,"v":-0.018},{"p":5,"t":100,"v":-0.008},{"p":5,"t":104,"v":-0.01},{"p":5,"t":108,"v":0.008},{"p":5,"t":112,"v":0.02},{"p":5,"t":116,"v":0.015},{"p":5,"t":122,"v":0.008},{"p":5,"t":128,"v":0.003},
{"p":5,"t":132,"v":-0.007},{"p":5,"t":136,"v":0.013},{"p":5,"t":140,"v":-0.009},{"p":5,"t":144,"v":0.015},{"p":5,"t":148,"v":-0.006},{"p":5,"t":152,"v":0.012},{"p":5,"t":156,"v":-0.01},{"p":5,"t":160,"v":0.014},{"p":5,"t":164,"v":-0.007},{"p":5,"t":168,"v":0.016},{"p":5,"t":172,"v":-0.009},{"p":5,"t":176,"v":0.012},{"p":5,"t":180,"v":-0.006},{"p":5,"t":184,"v":0.013},{"p":5,"t":188,"v":-0.01},{"p":5,"t":192,"v":0.015},{"p":5,"t":196,"v":-0.007},{"p":5,"t":200,"v":0.012},{"p":5,"t":204,"v":-0.009},{"p":5,"t":208,"v":0.014},{"p":5,"t":212,"v":-0.006},{"p":5,"t":214,"v":-0.015},{"p":5,"t":216,"v":-0.025},{"p":5,"t":218,"v":-0.025},{"p":5,"t":220,"v":-0.012},{"p":5,"t":223,"v":0.01},{"p":5,"t":227,"v":-0.008},{"p":5,"t":231,"v":0.014},{"p":5,"t":235,"v":-0.006},{"p":5,"t":239,"v":0.013},{"p":5,"t":243,"v":-0.01},{"p":5,"t":247,"v":0.015},{"p":5,"t":251,"v":-0.007},{"p":5,"t":255,"v":0.012},{"p":5,"t":259,"v":-0.009},{"p":5,"t":263,"v":0.014},{"p":5,"t":267,"v":-0.006},{"p":5,"t":271,"v":0.013},{"p":5,"t":275,"v":-0.01},{"p":5,"t":279,"v":0.015},{"p":5,"t":283,"v":-0.007},{"p":5,"t":287,"v":0.012},{"p":5,"t":291,"v":-0.009},{"p":5,"t":295,"v":0.014},{"p":5,"t":299,"v":0.002}
]
},
"hconcat":[
{
"width":495,"height":362,
"data":{"name":"neutrons"},
"title":{"text":"(a) Neutron pulses.","orient":"bottom","anchor":"middle","frame":"bounds","font":"Liberation Serif","fontSize":31,"fontWeight":"normal","color":"black","offset":35},
"mark":{"type":"line","strokeWidth":2,"opacity":0.5,"strokeJoin":"round"},
"encoding":{
"x":{"field":"t","type":"quantitative","scale":{"domain":[-14.95,313.95],"nice":false,"zero":false},"axis":{"values":[0,50,100,150,200,250,300],"title":"Time (ns)","labelPadding":9,"titlePadding":5}},
"y":{"field":"v","type":"quantitative","scale":{"domain":[-1.0506,0.0626],"nice":false,"zero":false},"axis":{"values":[-1,-0.8,-0.6,-0.4,-0.2,0],"format":".1f","title":"Normalized Amplitude","labelPadding":8,"titlePadding":5}},
"detail":{"field":"p","type":"nominal"},
"color":{"datum":"Neutrons","scale":{"range":["#ff0000"]},"legend":{"title":null}}
}
},
{
"width":493,"height":362,
"data":{"name":"gammas"},
"title":{"text":"(b) Gamma-ray pulses.","orient":"bottom","anchor":"middle","frame":"bounds","font":"Liberation Serif","fontSize":31,"fontWeight":"normal","color":"black","offset":35},
"mark":{"type":"line","strokeWidth":2,"opacity":0.5,"strokeJoin":"round"},
"encoding":{
"x":{"field":"t","type":"quantitative","scale":{"domain":[-14.95,313.95],"nice":false,"zero":false},"axis":{"values":[0,50,100,150,200,250,300],"title":"Time (ns)","labelPadding":9,"titlePadding":5}},
"y":{"field":"v","type":"quantitative","scale":{"domain":[-1.051,0.0735],"nice":false,"zero":false},"axis":{"values":[-1,-0.8,-0.6,-0.4,-0.2,0],"format":".1f","title":"Normalized Amplitude","labelPadding":8,"titlePadding":5}},
"detail":{"field":"p","type":"nominal"},
"color":{"datum":"Gamma-rays","scale":{"range":["#0000ff"]},"legend":{"title":null}}
}
}
],
"resolve":{"scale":{"x":"independent","y":"independent","color":"independent"},"legend":{"color":"independent"}}
}
